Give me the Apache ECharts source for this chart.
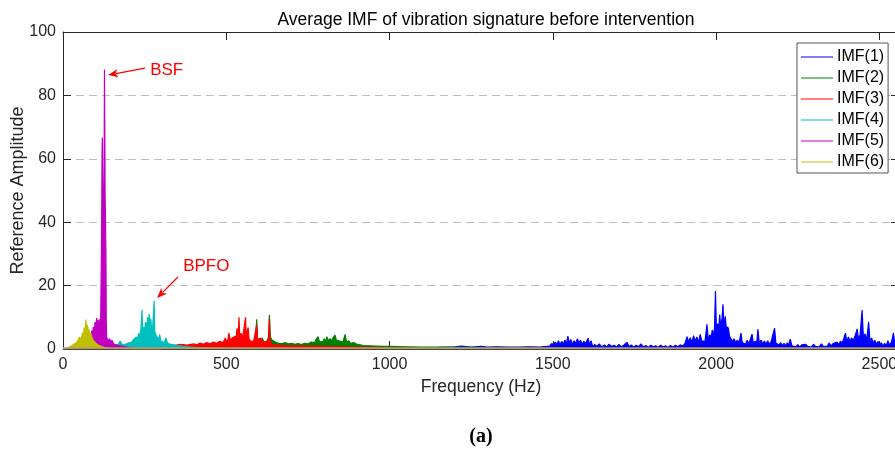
<!DOCTYPE html>
<html><head><meta charset="utf-8">
<script src="https://cdn.jsdelivr.net/npm/echarts@6/dist/echarts.min.js"></script>
<style>html,body{margin:0;padding:0;background:#fff}#c{width:895px;height:452px}</style>
</head><body><div id="c"></div>
<script>
// ---------- data ----------
const seriesNames = ['IMF(1)','IMF(2)','IMF(3)','IMF(4)','IMF(5)','IMF(6)'];
const yTicks = [0,20,40,60,80,100];
const xTicks = [0,500,1000,1500,2000,2500];

const imf1Freq = [500,550,600,650,700,750,800,850,900,950,1000,1050,1100,1150,1200,1220,1250,1280,1300,1330,1360,1400,1430,1460,1490,1497,1502,1507,1512,1517,1522,1527,1532,1537,1542,1546,1550,1555,1560,1565,1570,1575,1580,1585,1590,1595,1600,1608,1612,1617,1622,1628,1635,1642,1650,1658,1665,1672,1680,1688,1695,1702,1710,1718,1727,1733,1740,1748,1755,1762,1770,1778,1785,1792,1800,1808,1815,1822,1830,1838,1845,1852,1860,1868,1875,1882,1890,1897,1905,1911,1916,1921,1926,1931,1936,1941,1946,1951,1956,1961,1966,1972,1976,1981,1985,1988,1992,1995,1998,2001,2005,2008,2011,2014,2018,2021,2024,2028,2032,2035,2038,2041,2045,2050,2055,2060,2065,2070,2076,2080,2085,2090,2095,2100,2105,2110,2114,2120,2124,2128,2132,2138,2143,2148,2153,2158,2163,2168,2173,2179,2183,2188,2193,2198,2203,2208,2213,2218,2222,2227,2232,2238,2244,2250,2256,2262,2268,2274,2280,2286,2292,2298,2304,2310,2316,2322,2328,2334,2340,2346,2352,2358,2364,2370,2376,2381,2386,2391,2396,2400,2405,2410,2415,2420,2425,2432,2436,2441,2447,2451,2456,2461,2467,2471,2476,2481,2486,2491,2496,2501,2506,2511,2516,2521,2526,2531,2537,2543,2547,2552,2556,2560];
const imf1Amp  = [0.1,0.3,0.4,0.3,0.3,0.3,0.4,0.5,0.4,0.3,0.3,0.3,0.4,0.5,0.7,0.9,0.6,0.8,0.6,0.7,0.6,0.6,0.7,0.6,0.9,1.8,1.0,2.2,1.4,2.6,1.3,2.4,1.6,2.8,1.8,4.1,1.9,3.0,1.5,2.6,1.8,3.2,2.0,2.8,1.5,2.4,1.7,3.4,1.2,2.6,0.7,1.4,0.8,1.6,0.7,1.3,0.6,1.5,0.8,1.2,0.6,1.4,0.7,1.3,2.1,0.8,1.3,0.6,1.2,0.7,1.6,0.6,1.1,0.5,1.2,0.7,1.0,0.5,1.2,0.6,1.0,0.5,1.1,0.6,1.2,0.7,1.3,0.9,1.8,3.9,2.2,3.6,2.0,4.2,2.5,3.8,2.1,4.6,2.6,3.2,2.4,7.8,2.8,4.5,3.5,6.0,4.2,6.5,18.3,5.5,8.0,6.0,10.9,7.0,9.5,14.1,6.5,10.3,5.5,7.0,6.3,4.0,3.5,2.4,3.2,2.0,2.8,1.8,5.0,2.0,2.6,1.5,2.8,1.6,2.2,4.7,1.8,2.5,1.5,6.2,2.0,2.8,1.6,2.5,1.5,2.6,1.4,2.2,1.6,6.6,1.8,2.4,1.3,2.0,1.0,1.8,1.0,2.0,1.2,3.1,1.0,1.6,0.7,1.4,0.6,1.3,0.7,1.5,0.8,1.2,0.6,1.5,0.8,1.3,0.7,1.6,0.9,1.4,0.8,1.9,1.0,1.7,1.1,2.2,1.4,2.5,1.8,3.3,5.0,2.4,3.8,2.5,3.5,2.6,4.0,6.3,3.0,4.5,12.3,3.5,4.8,2.8,8.6,2.5,3.5,1.8,2.8,1.4,2.4,1.2,2.0,0.9,1.8,1.0,2.6,1.2,2.2,5.1,1.5,2.4,1.2,1.8];

const imf2Freq = [540,560,580,590,593,596,600,605,610,615,620,625,630,632,635,640,645,650,655,660,665,670,680,690,700,710,720,730,740,750,760,770,775,781,785,790,795,800,805,808,812,818,822,827,833,837,842,847,852,857,864,868,875,880,890,900,910,920,940,960,980,1000,1050,1100,1150,1200,1250,1300,1350,1400,1450,1500,1550,1600];
const imf2Amp  = [0.3,0.8,1.2,2.0,9.4,2.5,3.0,2.0,3.5,2.2,2.8,2.5,4.0,10.8,3.8,2.8,3.3,2.2,2.6,1.8,2.2,1.7,2.0,1.6,1.8,1.5,1.7,1.4,1.8,1.6,2.2,2.0,3.0,3.9,2.4,3.0,2.2,3.2,2.5,3.9,2.6,3.3,2.5,3.5,4.4,2.8,3.4,2.5,3.0,2.2,4.6,2.2,2.6,1.8,2.0,1.5,1.3,1.1,1.0,0.9,0.8,0.8,0.7,0.6,0.6,0.5,0.5,0.4,0.4,0.35,0.3,0.3,0.2,0.1];

const imf3Freq = [150,200,220,240,260,280,300,320,340,360,380,400,410,420,430,440,450,460,470,480,490,497,500,505,508,512,518,522,527,530,533,536,539,541,545,547,550,555,559,561,564,567,570,575,580,585,590,593,596,600,605,610,615,620,625,629,632,634,638,645,660,680,700,750,800,850,900,950,1000,1050,1100];
const imf3Amp  = [0.1,0.5,0.8,1.0,1.2,0.9,1.0,1.3,1.1,1.5,1.2,1.6,1.3,1.9,1.5,2.0,1.6,2.2,1.8,2.4,2.0,3.5,2.3,3.0,5.0,2.8,3.5,3.0,4.0,3.3,6.5,4.0,10.0,4.2,5.0,4.5,3.5,3.0,10.0,4.0,3.5,6.8,3.0,2.5,2.2,3.0,2.5,7.8,3.0,2.6,3.5,2.5,2.3,2.0,2.0,3.0,9.5,3.0,1.5,1.3,1.2,1.0,1.0,0.9,0.8,0.7,0.6,0.5,0.4,0.3,0.2];

const imf4Freq = [60,80,90,100,110,115,120,130,140,150,160,170,175,180,190,200,205,210,215,220,225,228,232,235,238,242,244,247,250,253,256,259,261,264,266,269,272,275,279,281,284,288,292,296,300,305,310,315,320,325,330,340,350,360,370,380,400,420,450,500,600];
const imf4Amp  = [0.1,0.4,0.8,1.0,1.3,2.0,1.2,1.0,1.4,1.0,1.2,1.5,2.5,1.4,1.5,1.9,1.5,2.2,2.9,2.4,3.8,3.0,5.0,4.0,5.5,12.3,4.8,7.0,5.5,8.5,6.0,10.0,7.0,11.0,6.5,9.5,5.0,7.5,15.2,5.5,4.5,3.8,3.0,4.5,2.5,3.0,2.0,3.5,1.8,2.2,1.5,1.3,1.1,1.0,0.8,0.7,0.5,0.4,0.3,0.2,0.1];

const imf5Freq = [50,60,70,75,80,85,88,90,93,96,98,100,103,106,108,111,113,115,117,118.5,119.5,120.5,121.5,122.5,124,125.5,127,128,129,130,131.5,132.5,134,136,140,143,146,150,155,160,165,170,175,180,190,200,220,250,300];
const imf5Amp  = [0.2,0.5,1.0,1.5,2.5,3.5,5.8,4.2,7.0,5.5,8.5,6.0,9.8,7.5,9.2,6.5,9.5,5.0,5.0,40.0,62.0,66.7,55.0,45.0,48.0,45.0,88.2,70.0,48.0,42.0,30.0,8.0,3.5,4.0,2.5,3.3,2.0,2.8,1.6,2.0,1.2,1.6,1.0,0.9,0.7,0.5,0.3,0.2,0.1];

const imf6Freq = [0,5,10,15,20,25,30,35,40,45,50,55,60,62,65,68,70,72,75,78,80,83,86,90,95,100,105,110,115,120,125,130,140,150,170,200,300];
const imf6Amp  = [0,0.1,0.2,0.4,0.6,0.9,1.3,1.1,1.9,2.6,3.8,2.9,5.2,4.0,6.8,5.5,9.3,6.0,7.6,5.0,6.2,4.1,4.8,3.2,2.5,1.9,1.4,1.0,0.9,0.6,0.5,0.4,0.3,0.2,0.1,0.05,0];

// residual (tan baseline drawn on top, not in legend)
const residualFreq = [0,2560];
const residualAmp  = [0.2,0.2];

const freqs = [imf1Freq,imf2Freq,imf3Freq,imf4Freq,imf5Freq,imf6Freq];
const amps  = [imf1Amp,imf2Amp,imf3Amp,imf4Amp,imf5Amp,imf6Amp];
const colors = ['#0000ff','#008000','#ff0000','#00bfbf','#bf00bf','#bfbf00'];

const FONT = '"Liberation Sans", Arial, Helvetica, sans-serif';
const zip = (f,a) => f.map((x,i)=>[x,a[i]]);

const chart = echarts.init(document.getElementById('c'), null, {renderer:'canvas'});

const series = seriesNames.map((n,i)=>({
  name:n, type:'line', data:zip(freqs[i],amps[i]),
  symbol:'none', showSymbol:false, animation:false,
  lineStyle:{color:colors[i], width:1.2},
  itemStyle:{color:colors[i]},
  areaStyle:{color:colors[i], opacity:1},
  z:2+i
}));
series.push({
  name:'residual', type:'line', data:zip(residualFreq,residualAmp),
  symbol:'none', animation:false, silent:true,
  lineStyle:{color:'#b59a6c', width:2}, z:20
});

function axisCommon(){
  return {
    axisLine:{show:true, onZero:false, lineStyle:{color:'#262626', width:1}},
    axisTick:{show:true, inside:true, length:8, lineStyle:{color:'#262626'}},
  };
}

chart.setOption({
  animation:false,
  backgroundColor:'#fff',
  title:{text:'Average IMF of vibration signature before intervention', left:481, top:6, textAlign:'center',
    textStyle:{fontFamily:FONT, fontSize:17.5, fontWeight:'normal', color:'#000'}},
  grid:{left:63, top:32, right:-4, bottom:103, containLabel:false, outerBoundsMode:'none'},
  legend:{
    data:seriesNames, orient:'vertical', left:797, top:43,
    padding:[6,4,3,4], itemGap:5, itemWidth:32, itemHeight:14,
    backgroundColor:'#fff', borderColor:'#555', borderWidth:1,
    icon:'path://M0,0L32,0L32,1L0,1Z',
    textStyle:{fontFamily:FONT, fontSize:16, color:'#000', padding:[0,0,0,-1]},
    selectedMode:false
  },
  xAxis:[
    Object.assign({type:'value', min:0, max:2560, interval:500, position:'bottom',
      name:'Frequency (Hz)', nameLocation:'middle', nameGap:29,
      nameTextStyle:{fontFamily:FONT, fontSize:17.5, color:'#262626'},
      axisLabel:{fontFamily:FONT, fontSize:16, color:'#262626', margin:8, showMaxLabel:false,
        formatter:v=>String(v)},
      splitLine:{show:false}}, axisCommon()),
    Object.assign({type:'value', min:0, max:2560, interval:500, position:'top',
      axisLabel:{show:false}, splitLine:{show:false}}, axisCommon())
  ],
  yAxis:[
    Object.assign({type:'value', min:0, max:100, interval:20, position:'left',
      name:'Reference Amplitude', nameLocation:'middle', nameGap:36, nameRotate:90, nameMoveOverlap:false,
      nameTextStyle:{fontFamily:FONT, fontSize:18, color:'#262626'},
      axisLabel:{fontFamily:FONT, fontSize:16, color:'#262626', margin:7, formatter:v=>String(v)},
      splitLine:{show:true, lineStyle:{color:'#bdbdbd', width:1, type:[8,5]}}}, axisCommon()),
    Object.assign({type:'value', min:0, max:100, interval:20, position:'right',
      axisLabel:{show:false}, splitLine:{show:false}}, axisCommon())
  ],
  series: series
});

// ---------- annotations placed through data coordinates ----------
const bsfTip = [138, 86.4], bsfTail = [251, 88.6], bsfText = [267, 88.0];
const bpfoTip = [288, 16.1], bpfoTail = [352, 22.7], bpfoText = [368, 26.2];

function px(p){ return chart.convertToPixel({gridIndex:0}, p); }
function arrow(tailD, tipD){
  const t = px(tailD), h = px(tipD);
  const dx = h[0]-t[0], dy = h[1]-t[1], L = Math.hypot(dx,dy);
  const ux = dx/L, uy = dy/L, nx = -uy, ny = ux;
  const hl = 10, hw = 4;
  const bx = h[0]-ux*hl, by = h[1]-uy*hl;
  return [
    {type:'line', shape:{x1:t[0], y1:t[1], x2:bx+ux*2, y2:by+uy*2}, style:{stroke:'#ff0000', lineWidth:1.2}, z:100},
    {type:'polygon', shape:{points:[[h[0],h[1]],[bx+nx*hw,by+ny*hw],[bx+ux*2.5,by+uy*2.5],[bx-nx*hw,by-ny*hw]]}, style:{fill:'#ff0000'}, z:100}
  ];
}
const bt = px(bsfText), pt = px(bpfoText);
chart.setOption({graphic:[
  ...arrow(bsfTail, bsfTip),
  ...arrow(bpfoTail, bpfoTip),
  {type:'text', x:bt[0], y:bt[1], z:100, style:{text:'BSF', fill:'#ff0000', font:'17px '+FONT, textVerticalAlign:'middle'}},
  {type:'text', x:pt[0], y:pt[1], z:100, style:{text:'BPFO', fill:'#ff0000', font:'17px '+FONT, textVerticalAlign:'middle'}},
  {type:'text', x:481, y:437, z:100, style:{text:'(a)', fill:'#000', font:'bold 20px "Liberation Serif", "DejaVu Serif", serif', textAlign:'center', textVerticalAlign:'middle'}}
]});
</script>
</body></html>
